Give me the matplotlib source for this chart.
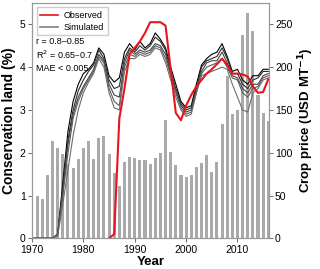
import numpy as np
import matplotlib
matplotlib.use("Agg")
import matplotlib.pyplot as plt
from matplotlib.lines import Line2D

plt.rcParams["font.family"] = ["Liberation Sans", "DejaVu Sans"]

# crop price bars (USD/MT), 1971-2016
price_years = list(range(1971, 2017))
crop_price = [49, 46, 74, 114, 106, 98, 87, 82, 93, 106,
              114, 93, 117, 120, 98, 76, 61, 89, 95, 94,
              91, 91, 87, 94, 100, 138, 101, 86, 74, 72,
              74, 83, 88, 97, 78, 89, 133, 190, 145, 150,
              237, 263, 242, 168, 146, 137]

# observed conservation land (%), 1985-2016
obs_years = list(range(1985, 2017))
observed = [0.0, 0.1, 2.8, 3.5, 4.3, 4.45, 4.6, 4.8, 5.05, 5.05,
            5.05, 4.97, 3.95, 2.93, 2.76, 3.1, 3.35, 3.55, 3.7, 3.85,
            3.95, 4.07, 4.2, 4.05, 3.85, 3.85, 3.83, 3.78, 3.55, 3.4,
            3.42, 3.72]

# simulated runs (%), 1970-2016
sim_years = list(range(1970, 2017))
sim_a = [0, 0, 0, 0, 0, 0.1, 1.3, 2.5, 3.2, 3.6, 3.85, 3.95, 4.1, 4.45, 4.3,
         3.8, 3.65, 3.75, 4.35, 4.55, 4.4, 4.6, 4.45, 4.55, 4.8, 4.65, 4.45,
         4.0, 3.6, 3.2, 3.05, 3.1, 3.6, 4.05, 4.2, 4.3, 4.35, 4.55, 4.25,
         3.9, 3.95, 3.7, 3.6, 3.8, 3.8, 3.95, 3.95]
sim_b = [0, 0, 0, 0, 0, 0.1, 1.2, 2.3, 3.0, 3.45, 3.7, 3.9, 4.05, 4.4, 4.2,
         3.7, 3.5, 3.55, 4.2, 4.45, 4.35, 4.5, 4.4, 4.5, 4.7, 4.6, 4.4,
         3.9, 3.5, 3.15, 3.0, 3.05, 3.5, 4.0, 4.15, 4.2, 4.25, 4.45, 4.2,
         3.85, 3.85, 3.6, 3.5, 3.7, 3.75, 3.9, 3.9]
sim_c = [0, 0, 0, 0, 0, 0.1, 1.1, 2.2, 2.9, 3.3, 3.55, 3.75, 3.95, 4.3, 4.15,
         3.6, 3.35, 3.3, 4.1, 4.4, 4.3, 4.4, 4.35, 4.4, 4.55, 4.5, 4.3,
         3.85, 3.45, 3.1, 2.95, 3.0, 3.45, 3.9, 4.1, 4.15, 4.15, 4.35, 4.1,
         3.8, 3.75, 3.5, 3.4, 3.6, 3.6, 3.8, 3.85]
sim_d = [0, 0, 0, 0, 0, 0.1, 1.0, 2.0, 2.8, 3.2, 3.5, 3.7, 3.9, 4.25, 4.1,
         3.5, 3.2, 3.1, 4.0, 4.3, 4.25, 4.35, 4.3, 4.35, 4.5, 4.45, 4.2,
         3.8, 3.4, 3.05, 2.9, 2.95, 3.4, 3.85, 4.0, 4.05, 4.1, 4.2, 4.0,
         3.75, 3.7, 3.4, 3.3, 3.5, 3.55, 3.75, 3.8]
sim_e = [0, 0, 0, 0, 0, 0.05, 0.8, 1.6, 2.4, 3.0, 3.4, 3.65, 3.85, 4.2, 4.0,
         3.4, 3.05, 3.0, 3.9, 4.2, 4.2, 4.3, 4.25, 4.3, 4.45, 4.4, 4.1,
         3.7, 3.3, 3.0, 2.85, 2.9, 3.4, 3.8, 3.85, 3.9, 3.95, 4.0, 3.95,
         3.6, 3.3, 3.0, 2.95, 3.4, 3.5, 3.7, 3.75]
sim_runs = [sim_a, sim_b, sim_c, sim_d, sim_e]
sim_colors = ["#000000", "#2a2a2a", "#444444", "#5a5a5a", "#6e6e6e"]

fig = plt.figure(figsize=(3.2, 2.69), dpi=100)
ax = fig.add_axes([0.1, 0.114, 0.74, 0.875])
ax2 = ax.twinx()

ax2.bar(price_years, crop_price, width=0.6, color="#aaaaaa", zorder=1)
ax2.set_ylim(0, 275)
ax2.set_yticks([0, 50, 100, 150, 200, 250])

# lines above the bars
ax.set_zorder(ax2.get_zorder() + 1)
ax.patch.set_visible(False)

for run, c in zip(sim_runs, sim_colors):
    ax.plot(sim_years, run, color=c, lw=0.8)
ax.plot(obs_years, observed, color="#e8141c", lw=1.5)

ax.set_xlim(1970, 2016.1)
ax.set_ylim(0, 5.5)
ax.set_xticks([1970, 1980, 1990, 2000, 2010])
ax.set_yticks([0, 1, 2, 3, 4, 5])

for a in (ax, ax2):
    a.tick_params(labelsize=7.5, length=3, width=0.6, pad=1.5, color="#555555")
    for s in a.spines.values():
        s.set_color("#999999")
        s.set_linewidth(0.8)

ax.set_xlabel("Year", fontsize=9.5, fontweight="bold", labelpad=1)
ax.set_ylabel("Conservation land (%)", fontsize=10, fontweight="bold", labelpad=3)
ax2.set_ylabel("Crop price (USD MT$^{\\mathbf{-1}}$)", fontsize=9.5, fontweight="bold", labelpad=3)

handles = [Line2D([], [], color="#e8141c", lw=1.2),
           Line2D([], [], color="#808080", lw=1.2)]
ax.legend(handles, ["Observed", "Simulated"], loc="upper left", fontsize=6.5,
          frameon=True, fancybox=False, edgecolor="#cccccc", framealpha=1,
          handlelength=2.0, handletextpad=0.6, borderpad=0.4, labelspacing=0.3,
          bbox_to_anchor=(0.0, 1.0))

ax.text(0.018, 0.835, "r = 0.8\u20130.85", transform=ax.transAxes, fontsize=6.5, va="center")
ax.text(0.018, 0.778, "R$^2$ = 0.65\u20130.7", transform=ax.transAxes, fontsize=6.5, va="center")
ax.text(0.018, 0.72, "MAE < 0.005", transform=ax.transAxes, fontsize=6.5, va="center")

fig.savefig("out.png", dpi=100)
